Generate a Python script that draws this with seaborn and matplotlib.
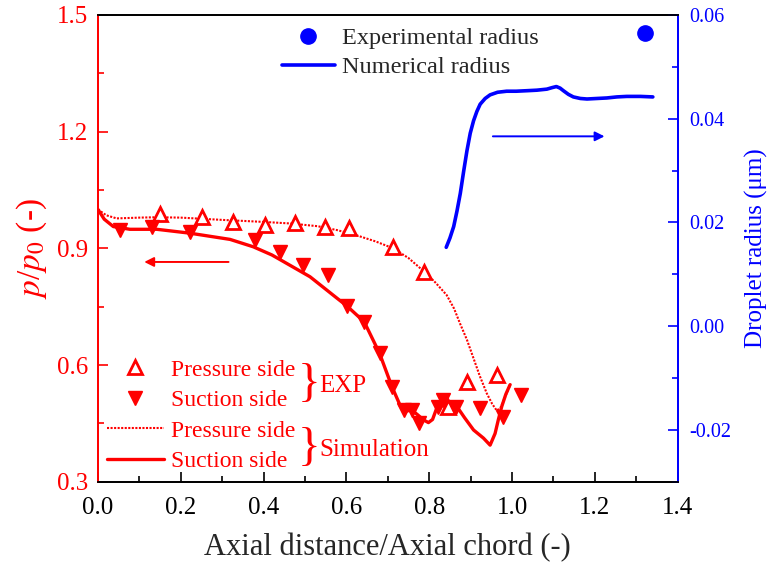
import matplotlib
matplotlib.use("Agg")
import matplotlib.pyplot as plt
from matplotlib.lines import Line2D
from matplotlib.ticker import MultipleLocator, FormatStrFormatter
import seaborn as sns

sns.set_style("ticks")
plt.rcParams["font.family"] = ["Liberation Serif", "DejaVu Serif"]
plt.rcParams["mathtext.fontset"] = "stix"

RED = "#ff0000"
BLUE = "#0000ff"

# experimental pressure ratio, pressure side (open triangles)
exp_ps_x = [0.150, 0.251, 0.327, 0.403, 0.476, 0.548, 0.605, 0.713, 0.788, 0.845, 0.891, 0.963]
exp_ps_y = [0.988, 0.980, 0.969, 0.960, 0.964, 0.956, 0.952, 0.904, 0.840, 0.492, 0.557, 0.574]

# experimental pressure ratio, suction side (filled triangles)
exp_ss_x = [0.053, 0.130, 0.221, 0.379, 0.440, 0.496, 0.556, 0.601, 0.643, 0.680, 0.710,
            0.739, 0.758, 0.776, 0.820, 0.834, 0.864, 0.923, 0.979, 1.021]
exp_ss_y = [0.947, 0.954, 0.943, 0.921, 0.891, 0.857, 0.832, 0.752, 0.711, 0.630, 0.544,
            0.484, 0.484, 0.450, 0.493, 0.510, 0.493, 0.489, 0.467, 0.523]

# simulation, pressure side
sim_ps_x = [0.0, 0.02, 0.045, 0.10, 0.142, 0.20, 0.303, 0.40, 0.464, 0.53, 0.577, 0.62,
            0.67, 0.713, 0.75, 0.788, 0.815, 0.842, 0.860, 0.875, 0.891, 0.906, 0.922,
            0.939, 0.952, 0.963, 0.972, 0.982, 0.990, 0.997]
sim_ps_y = [1.000, 0.985, 0.977, 0.979, 0.980, 0.979, 0.973, 0.968, 0.964, 0.957, 0.947,
            0.935, 0.918, 0.900, 0.875, 0.840, 0.812, 0.780, 0.745, 0.705, 0.665, 0.620,
            0.572, 0.527, 0.500, 0.483, 0.490, 0.515, 0.535, 0.553]

# simulation, suction side
sim_ss_x = [0.0, 0.015, 0.037, 0.077, 0.142, 0.222, 0.319, 0.375, 0.420, 0.448, 0.512,
            0.577, 0.601, 0.643, 0.680, 0.710, 0.731, 0.745, 0.758, 0.772, 0.786, 0.798,
            0.808, 0.818, 0.840, 0.867, 0.885, 0.907, 0.931, 0.947, 0.959, 0.967, 0.975,
            0.985, 0.995]
sim_ss_y = [1.000, 0.975, 0.956, 0.949, 0.949, 0.939, 0.923, 0.904, 0.883, 0.866, 0.827,
            0.772, 0.752, 0.711, 0.630, 0.544, 0.493, 0.482, 0.484, 0.472, 0.459, 0.452,
            0.460, 0.489, 0.500, 0.493, 0.465, 0.433, 0.412, 0.394, 0.424, 0.460, 0.493,
            0.525, 0.549]

# numerical droplet radius
rad_x = [0.841, 0.850, 0.859, 0.867, 0.875, 0.883, 0.891, 0.899, 0.907, 0.915, 0.923,
         0.935, 0.947, 0.965, 0.987, 1.010, 1.036, 1.060, 1.084, 1.097, 1.107, 1.116,
         1.124, 1.136, 1.148, 1.165, 1.181, 1.205, 1.229, 1.253, 1.277, 1.310, 1.340]
rad_y = [0.0152, 0.0170, 0.0192, 0.0222, 0.0256, 0.0298, 0.0338, 0.0372, 0.0396, 0.0414,
         0.0428, 0.0439, 0.0446, 0.0451, 0.0453, 0.0453, 0.0454, 0.0455, 0.0457, 0.0460,
         0.0462, 0.0459, 0.0454, 0.0447, 0.0442, 0.0439, 0.0438, 0.0439, 0.0440, 0.0442,
         0.0443, 0.0443, 0.0442]

# experimental droplet radius
exp_rad_x = [1.320]
exp_rad_y = [0.0566]

DOTS = (0, (1, 0.7))

fig = plt.figure(figsize=(7.68, 5.70), dpi=100)
ax = fig.add_axes([0.1276, 0.1549, 0.7548, 0.8188])
ax2 = ax.twinx()

sns.lineplot(x=sim_ps_x, y=sim_ps_y, ax=ax, color=RED, lw=1.5, linestyle=DOTS,
             sort=False, estimator=None)
sns.lineplot(x=sim_ss_x, y=sim_ss_y, ax=ax, color=RED, lw=2.4, sort=False, estimator=None)
ax.plot(exp_ps_x, exp_ps_y, ls="none", marker="^", ms=10, mfc="white", mec=RED, mew=2)
ax.plot(exp_ss_x, exp_ss_y, ls="none", marker="v", ms=10, mfc=RED, mec=RED)

sns.lineplot(x=rad_x, y=rad_y, ax=ax2, color=BLUE, lw=2.6, sort=False, estimator=None)
ax2.plot(exp_rad_x, exp_rad_y, ls="none", marker="o", ms=11, color=BLUE)

# direction arrows
ax.annotate("", xy=(0.105, 0.865), xytext=(0.322, 0.865),
            arrowprops=dict(arrowstyle="-|>", color=RED, lw=1.4, mutation_scale=14))
ax2.annotate("", xy=(1.23, 0.0366), xytext=(0.947, 0.0366),
             arrowprops=dict(arrowstyle="-|>", color=BLUE, lw=1.4, mutation_scale=14))

ax.set_xlim(0, 1.4)
ax.set_ylim(0.3, 1.5)
ax2.set_ylim(-0.03, 0.06)
ax.xaxis.set_major_locator(MultipleLocator(0.2))
ax.xaxis.set_minor_locator(MultipleLocator(0.1))
ax.yaxis.set_major_locator(MultipleLocator(0.3))
ax.yaxis.set_minor_locator(MultipleLocator(0.15))
ax2.yaxis.set_major_locator(MultipleLocator(0.02))
ax2.yaxis.set_minor_locator(MultipleLocator(0.01))
ax.xaxis.set_major_formatter(FormatStrFormatter("%.1f"))
ax.yaxis.set_major_formatter(FormatStrFormatter("%.1f"))
ax2.yaxis.set_major_formatter(FormatStrFormatter("%.2f"))

ax.tick_params(axis="x", which="both", direction="in", top=False, labelsize=18,
               colors="black", pad=11)
ax.tick_params(axis="x", which="major", length=7, width=1.2)
ax.tick_params(axis="x", which="minor", length=4, width=1.2)
ax.tick_params(axis="y", which="both", direction="in", colors=RED, labelsize=18, pad=7)
ax.tick_params(axis="y", which="major", length=7, width=1.2)
ax.tick_params(axis="y", which="minor", length=4, width=1.2)
ax2.tick_params(axis="y", which="both", direction="in", colors=BLUE, labelsize=14.5, pad=8)
ax2.tick_params(axis="y", which="major", length=7, width=1.2)
ax2.tick_params(axis="y", which="minor", length=4, width=1.2)

for a in (ax, ax2):
    a.spines["top"].set_color("black")
    a.spines["bottom"].set_color("black")
    a.spines["left"].set_color(RED)
    a.spines["right"].set_color(BLUE)
    for s in a.spines.values():
        s.set_linewidth(1.3)

ax.set_xlabel("Axial distance/Axial chord (-)", fontsize=22, labelpad=10)
ax.set_ylabel("$p$/$p_0$ (-)", fontsize=24, color=RED, labelpad=6)
ax2.set_ylabel("Droplet radius (\u03bcm)", fontsize=18, color=BLUE, labelpad=10)

# legend for droplet radius
rad_handles = [
    Line2D([], [], ls="none", marker="o", ms=11, color=BLUE),
    Line2D([], [], color=BLUE, lw=2.6),
]
ax2.legend(rad_handles, ["Experimental radius", "Numerical radius"],
           loc="upper left", bbox_to_anchor=(0.300, 0.995), frameon=False,
           fontsize=17.5, handlelength=2.2, handletextpad=0.3, labelspacing=0.3,
           borderaxespad=0)

# legend for pressure ratio
p_handles = [
    Line2D([], [], ls="none", marker="^", ms=10, mfc="white", mec=RED, mew=2),
    Line2D([], [], ls="none", marker="v", ms=10, mfc=RED, mec=RED),
    Line2D([], [], color=RED, lw=1.5, linestyle=DOTS),
    Line2D([], [], color=RED, lw=2.4),
]
ax.legend(p_handles, ["Pressure side", "Suction side", "Pressure side", "Suction side"],
          loc="lower left", bbox_to_anchor=(-0.005, -0.005), frameon=False,
          fontsize=17, labelcolor=RED, handlelength=2.4, handletextpad=0.3,
          labelspacing=0.38, borderaxespad=0.1)

def px(x, y):
    return x / 768, 1 - y / 570

fig.text(*px(298, 385), "}", fontsize=34, color=RED, va="center", ha="left")
fig.text(*px(319, 386), "EXP", fontsize=18, color=RED, va="center", ha="left")
fig.text(*px(298, 449), "}", fontsize=34, color=RED, va="center", ha="left")
fig.text(*px(319, 450), "Simulation", fontsize=18, color=RED, va="center", ha="left")

fig.savefig("out.png", dpi=100, facecolor="white")
